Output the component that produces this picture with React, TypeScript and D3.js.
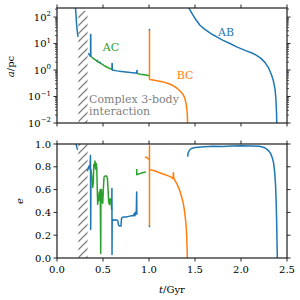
import React, { useEffect, useRef } from 'react';
import * as d3 from 'd3';

// semi-major axis (pc) vs time (Gyr), one array per drawn segment
const abBeforeA: [number, number][] = [[0.200, 250], [0.206, 130], [0.212, 60], [0.218, 34], [0.224, 23], [0.229, 18]];
const abAfterA: [number, number][] = [[0.340, 4.3], [0.350, 3.8], [0.360, 3.4], [0.365, 3.3], [0.365, 22], [0.367, 22], [0.368, 3.3]];
const acA: [number, number][] = [[0.368, 3.3], [0.39, 2.8], [0.42, 2.35], [0.45, 2.0], [0.48, 1.75], [0.51, 1.5], [0.54, 1.3], [0.57, 1.15], [0.598, 1.07]];
const acTicksA: [number, number][][] = [[[0.44, 2.05], [0.44, 2.45]], [[0.468, 1.8], [0.468, 2.1]]];
const abMidA: [number, number][] = [[0.598, 1.07], [0.598, 1.75], [0.600, 1.75], [0.601, 1.0], [0.65, 0.93], [0.70, 0.88], [0.75, 0.84], [0.80, 0.80], [0.85, 0.77], [0.868, 0.75], [0.868, 0.95], [0.870, 0.95], [0.871, 0.74]];
const acLateA: [number, number][] = [[0.871, 0.74], [0.90, 0.70], [0.95, 0.66], [1.005, 0.61]];
const bcA: [number, number][] = [[1.005, 32], [1.005, 0.46], [1.01, 0.44], [1.06, 0.41], [1.11, 0.38], [1.16, 0.35], [1.21, 0.31], [1.26, 0.26], [1.30, 0.21], [1.34, 0.16], [1.37, 0.12], [1.39, 0.085], [1.405, 0.05], [1.415, 0.025], [1.42, 0.01], [1.425, 0.005]];
const bcTipA: [number, number][] = [[1.005, 31], [1.005, 36]];
const abLateA: [number, number][] = [[1.43, 229], [1.47, 132], [1.51, 79], [1.554, 49], [1.60, 36], [1.65, 27], [1.70, 21], [1.736, 17.8], [1.80, 13.5], [1.88, 10], [1.953, 7.5], [2.05, 5.4], [2.12, 4.4], [2.17, 3.6], [2.22, 2.7], [2.26, 1.95], [2.30, 1.2], [2.33, 0.68], [2.35, 0.42], [2.37, 0.19], [2.38, 0.074], [2.386, 0.025], [2.39, 0.0063]];

// eccentricity vs time (Gyr)
const abBeforeE: [number, number][] = [[0.205, 1.0], [0.212, 0.985], [0.218, 0.965], [0.224, 0.95]];
const abAfterE: [number, number][] = [[0.330, 0.76], [0.340, 0.79], [0.350, 0.81], [0.358, 0.78], [0.364, 0.90], [0.366, 0.25], [0.370, 0.78]];
const acE: [number, number][] = [[0.372, 0.76], [0.380, 0.70], [0.388, 0.62], [0.395, 0.66], [0.400, 0.82], [0.407, 0.80], [0.413, 0.85], [0.420, 0.78], [0.426, 0.83], [0.432, 0.80], [0.437, 0.62], [0.442, 0.47], [0.448, 0.55], [0.453, 0.50], [0.460, 0.58], [0.466, 0.56], [0.470, 0.60], [0.475, 0.04], [0.478, 0.55], [0.484, 0.60], [0.490, 0.50], [0.497, 0.48], [0.505, 0.62], [0.511, 0.71], [0.525, 0.72], [0.540, 0.72], [0.548, 0.70], [0.555, 0.60], [0.562, 0.49], [0.570, 0.47], [0.578, 0.52], [0.586, 0.50], [0.595, 0.42]];
const abMidE: [number, number][] = [[0.595, 0.42], [0.597, 0.61], [0.598, 0.03], [0.600, 0.34], [0.62, 0.33], [0.64, 0.335], [0.66, 0.33], [0.668, 0.29], [0.68, 0.28], [0.695, 0.28], [0.702, 0.35], [0.72, 0.36], [0.75, 0.36], [0.78, 0.365], [0.81, 0.37], [0.83, 0.37], [0.84, 0.39], [0.845, 0.37], [0.85, 0.40], [0.855, 0.38], [0.862, 0.41], [0.866, 0.58], [0.868, 0.38]];
const acLateE: [number, number][] = [[0.866, 0.78], [0.867, 0.73], [0.88, 0.735], [0.90, 0.74], [0.92, 0.745], [0.94, 0.75], [0.965, 0.755]];
const bcLeftE: [number, number][] = [[0.955, 0.88], [0.97, 0.885], [0.985, 0.875], [1.0, 0.865]];
const bcDropE: [number, number][] = [[1.005, 0.99], [1.005, 0.28]];
const bcTipE: [number, number][] = [[1.005, 0.285], [1.005, 0.27]];
const bcE: [number, number][] = [[1.01, 0.775], [1.06, 0.765], [1.11, 0.75], [1.16, 0.735], [1.21, 0.72], [1.25, 0.705], [1.262, 0.695], [1.265, 0.75], [1.27, 0.70], [1.29, 0.67], [1.31, 0.64], [1.33, 0.60], [1.35, 0.55], [1.37, 0.49], [1.385, 0.42], [1.395, 0.35], [1.402, 0.30], [1.408, 0.22], [1.412, 0.14], [1.415, 0.06], [1.417, 0.0]];
const abLateE: [number, number][] = [[1.42, 0.89], [1.425, 0.92], [1.44, 0.945], [1.46, 0.96], [1.50, 0.97], [1.60, 0.975], [1.70, 0.98], [1.80, 0.978], [1.90, 0.982], [2.00, 0.985], [2.10, 0.982], [2.20, 0.98], [2.25, 0.97], [2.28, 0.955], [2.30, 0.94], [2.32, 0.92], [2.34, 0.88], [2.355, 0.83], [2.365, 0.76], [2.375, 0.65], [2.382, 0.5], [2.388, 0.3], [2.392, 0.12], [2.395, 0.0]];

const xTicks = [0, 0.5, 1.0, 1.5, 2.0, 2.5];
const aTickExps = [-2, -1, 0, 1, 2];
const eTicks = [0, 0.2, 0.4, 0.6, 0.8, 1.0];
const hatchSpan = [0.232, 0.332];
const hatchTopA = 170;

const BLUE = '#1f77b4';
const ORANGE = '#ff7f0e';
const GREEN = '#2ca02c';

function App() {
  const svgRef = useRef<SVGSVGElement | null>(null);

  useEffect(() => {
    if (!svgRef.current) return;
    const svg = d3.select(svgRef.current);
    svg.selectAll('*').remove();

    const left = 57, right = 287;
    const top1 = 8, bot1 = 123, top2 = 144, bot2 = 258;
    const font = "'DejaVu Serif', serif";
    const spine = '#262626';

    const x = d3.scaleLinear().domain([0, 2.5]).range([left, right]);
    const yA = d3.scaleLog().domain([0.01, 220]).range([bot1, top1]);
    const yE = d3.scaleLinear().domain([0, 1]).range([bot2, top2]);

    const defs = svg.append('defs');
    const pat = defs.append('pattern')
      .attr('id', 'hatch')
      .attr('patternUnits', 'userSpaceOnUse')
      .attr('width', 8).attr('height', 8);
    pat.append('path')
      .attr('d', 'M-2,2 L2,-2 M0,8 L8,0 M6,10 L10,6')
      .attr('stroke', '#808080').attr('stroke-width', 1.3);
    defs.append('clipPath').attr('id', 'clipA')
      .append('rect').attr('x', left).attr('y', top1).attr('width', right - left).attr('height', bot1 - top1);
    defs.append('clipPath').attr('id', 'clipE')
      .append('rect').attr('x', left).attr('y', top2).attr('width', right - left).attr('height', bot2 - top2);

    // hatched "complex interaction" band
    svg.append('rect')
      .attr('x', x(hatchSpan[0])).attr('width', x(hatchSpan[1]) - x(hatchSpan[0]))
      .attr('y', yA(hatchTopA)).attr('height', bot1 - yA(hatchTopA))
      .attr('fill', 'url(#hatch)');
    svg.append('rect')
      .attr('x', x(hatchSpan[0])).attr('width', x(hatchSpan[1]) - x(hatchSpan[0]))
      .attr('y', top2).attr('height', bot2 - top2)
      .attr('fill', 'url(#hatch)');

    const lineA = d3.line<[number, number]>().x(d => x(d[0])).y(d => yA(d[1]));
    const lineE = d3.line<[number, number]>().x(d => x(d[0])).y(d => yE(d[1]));

    const gA = svg.append('g').attr('clip-path', 'url(#clipA)');
    const gE = svg.append('g').attr('clip-path', 'url(#clipE)');

    const draw = (g: any, line: any, data: [number, number][], color: string) => {
      g.append('path')
        .datum(data)
        .attr('d', line)
        .attr('fill', 'none')
        .attr('stroke', color)
        .attr('stroke-width', 1.5)
        .attr('stroke-linejoin', 'round');
    };

    draw(gA, lineA, abBeforeA, BLUE);
    draw(gA, lineA, abAfterA, BLUE);
    draw(gA, lineA, acA, GREEN);
    acTicksA.forEach(s => draw(gA, lineA, s, BLUE));
    draw(gA, lineA, abMidA, BLUE);
    draw(gA, lineA, acLateA, GREEN);
    draw(gA, lineA, bcA, ORANGE);
    draw(gA, lineA, bcTipA, BLUE);
    draw(gA, lineA, abLateA, BLUE);

    draw(gE, lineE, abBeforeE, BLUE);
    draw(gE, lineE, abAfterE, BLUE);
    draw(gE, lineE, acE, GREEN);
    draw(gE, lineE, abMidE, BLUE);
    draw(gE, lineE, acLateE, GREEN);
    draw(gE, lineE, bcLeftE, ORANGE);
    draw(gE, lineE, bcDropE, ORANGE);
    draw(gE, lineE, bcTipE, BLUE);
    draw(gE, lineE, bcE, ORANGE);
    draw(gE, lineE, abLateE, BLUE);

    // ticks
    const ax = svg.append('g').attr('stroke', spine);
    const tick = (x1: number, y1: number, x2: number, y2: number, w = 1) => {
      ax.append('line').attr('x1', x1).attr('y1', y1).attr('x2', x2).attr('y2', y2).attr('stroke-width', w);
    };
    const major = 3.5, minor = 2;
    xTicks.forEach(t => {
      const px = x(t);
      [top1, top2].forEach(yy => tick(px, yy, px, yy - major));
      [bot1, bot2].forEach(yy => tick(px, yy, px, yy + major));
    });
    aTickExps.forEach(k => {
      const py = yA(Math.pow(10, k));
      tick(left, py, left - major, py);
      tick(right, py, right + major, py);
      for (let m = 2; m <= 9; m++) {
        const v = m * Math.pow(10, k);
        if (v > 220) break;
        const pm = yA(v);
        tick(left, pm, left - minor, pm, 0.8);
        tick(right, pm, right + minor, pm, 0.8);
      }
    });
    eTicks.forEach(v => {
      const py = yE(v);
      tick(left, py, left - major, py);
      tick(right, py, right + major, py);
    });

    // spines
    [[top1, bot1], [top2, bot2]].forEach(([t, b]) => {
      svg.append('rect')
        .attr('x', left).attr('y', t).attr('width', right - left).attr('height', b - t)
        .attr('fill', 'none').attr('stroke', spine).attr('stroke-width', 1.25);
    });

    // tick labels
    const lab = svg.append('g').style('font-family', font).attr('font-size', 10).attr('fill', '#000');
    xTicks.forEach(t => {
      lab.append('text').attr('x', x(t)).attr('y', bot2 + 15)
        .attr('text-anchor', 'middle').text(d3.format('.1f')(t));
    });
    eTicks.forEach(v => {
      lab.append('text').attr('x', left - 6).attr('y', yE(v) + 3.6)
        .attr('text-anchor', 'end').text(d3.format('.1f')(v));
    });
    aTickExps.forEach(k => {
      const t = lab.append('text').attr('x', left - 6).attr('y', yA(Math.pow(10, k)) + 3.6)
        .attr('text-anchor', 'end');
      t.append('tspan').text('10');
      t.append('tspan').attr('font-size', 7).attr('dy', -4.5)
        .text(k < 0 ? '\u2212' + Math.abs(k) : String(k));
    });

    // axis labels
    const aLab = lab.append('text')
      .attr('transform', `translate(14,${(top1 + bot1) / 2 + 1}) rotate(-90)`)
      .attr('text-anchor', 'middle');
    aLab.append('tspan').attr('font-style', 'italic').text('a');
    aLab.append('tspan').text('/pc');
    lab.append('text')
      .attr('transform', `translate(23,${(top2 + bot2) / 2}) rotate(-90)`)
      .attr('text-anchor', 'middle').attr('font-style', 'italic').text('e');
    const tLab = lab.append('text').attr('x', (left + right) / 2).attr('y', 293)
      .attr('text-anchor', 'middle');
    tLab.append('tspan').attr('font-style', 'italic').text('t');
    tLab.append('tspan').text('/Gyr');

    // annotations
    const ann = svg.append('g').style('font-family', font).attr('font-size', 11);
    ann.append('text').attr('x', 111).attr('y', 50.5).attr('text-anchor', 'middle').attr('fill', GREEN).text('AC');
    ann.append('text').attr('x', 226).attr('y', 36).attr('text-anchor', 'middle').attr('fill', BLUE).text('AB');
    ann.append('text').attr('x', 185).attr('y', 79).attr('text-anchor', 'middle').attr('fill', ORANGE).text('BC');
    ann.append('text').attr('x', 89).attr('y', 103).attr('fill', '#7f7f7f').text('Complex 3-body');
    ann.append('text').attr('x', 89).attr('y', 115).attr('fill', '#7f7f7f').text('interaction');
  }, []);

  return (
    <svg
      ref={svgRef}
      width={300}
      height={300}
      style={{ position: 'absolute', left: 0, top: 0, background: '#fff' }}
    />
  );
}

export default App;
